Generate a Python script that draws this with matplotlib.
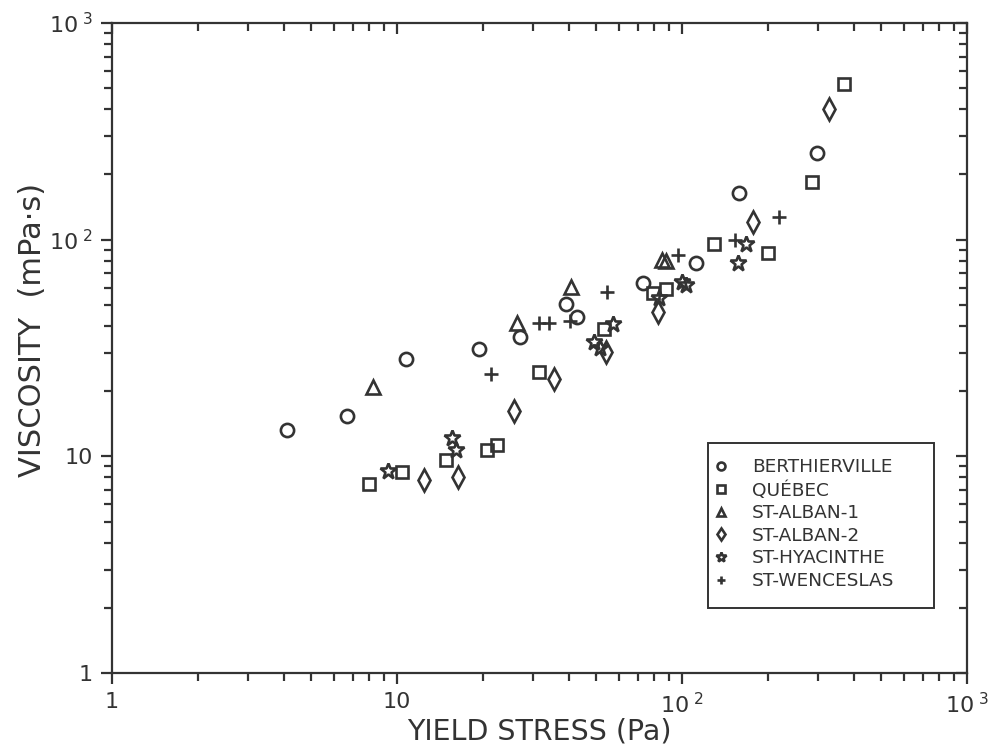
import matplotlib.pyplot as plt
from matplotlib.patches import Rectangle
from matplotlib.ticker import FixedLocator, LogLocator, NullFormatter

# yield stress (Pa) and viscosity (mPa.s) for each site
berthierville_x = [4.1, 6.66, 10.75, 19.4, 27.0, 39.1, 42.7, 72.8, 112, 158.5, 297]
berthierville_y = [13.2, 15.3, 28.2, 31.2, 35.4, 50.4, 44.1, 62.9, 77.8, 164.7, 250]

quebec_x = [7.97, 10.4, 14.9, 20.7, 22.4, 31.6, 53.3, 79.3, 87.9, 129.5, 201, 286, 370]
quebec_y = [7.45, 8.49, 9.6, 10.7, 11.3, 24.6, 38.5, 56.5, 59.0, 95.1, 86.4, 185, 522]

alban1_x = [8.26, 26.4, 40.7, 84.9, 87.5]
alban1_y = [20.8, 41.4, 60.6, 80.5, 79.5]

alban2_x = [12.4, 16.4, 25.7, 35.4, 54.1, 82.6, 178, 328]
alban2_y = [7.77, 8.05, 16.1, 22.7, 30.4, 46.5, 121, 399]

hyacinthe_x = [9.32, 15.6, 16.1, 49.2, 51.6, 57.4, 83.2, 100, 103, 157.6, 167]
hyacinthe_y = [8.59, 12.1, 10.7, 33.8, 31.5, 40.6, 53.6, 63.5, 61.5, 78.2, 95.1]

wenceslas_x = [21.3, 31.5, 34.0, 40.5, 54.4, 97.1, 153.5, 219]
wenceslas_y = [24.0, 41.4, 41.4, 42.2, 57.5, 84.9, 100, 127.6]

labels = ['BERTHIERVILLE', 'QUÉBEC', 'ST-ALBAN-1', 'ST-ALBAN-2',
          'ST-HYACINTHE', 'ST-WENCESLAS']

ink = '#333333'

fig = plt.figure(figsize=(9.95, 7.51), dpi=100)
ax = fig.add_axes([0.1126, 0.1039, 0.8593, 0.8655])

series = [
    (berthierville_x, berthierville_y, 'o', 9.5),
    (quebec_x, quebec_y, 's', 8.5),
    (alban1_x, alban1_y, '^', 9.5),
    (alban2_x, alban2_y, 'd', 11),
    (hyacinthe_x, hyacinthe_y, '*', 12),
    (wenceslas_x, wenceslas_y, '+', 10.5),
]
for (xs, ys, m, ms), lab in zip(series, labels):
    ax.plot(xs, ys, linestyle='none', marker=m, markersize=ms,
            markerfacecolor='none', markeredgecolor=ink,
            markeredgewidth=1.9, label=lab)

ax.set_xscale('log')
ax.set_yscale('log')
ax.set_xlim(1, 1000)
ax.set_ylim(1, 1000)

for sp in ax.spines.values():
    sp.set_color(ink)
    sp.set_linewidth(1.6)

for axis in (ax.xaxis, ax.yaxis):
    axis.set_major_locator(FixedLocator([1, 10, 100, 1000]))
    axis.set_minor_locator(LogLocator(base=10, subs=range(2, 10)))
    axis.set_minor_formatter(NullFormatter())

tick_text = ['1', '10', r'$\mathregular{10^{\ 2}}$', r'$\mathregular{10^{\ 3}}$']
ax.set_xticklabels(tick_text)
ax.set_yticklabels(tick_text)

ax.tick_params(which='both', color=ink, width=1.6, labelcolor=ink,
               labelsize=16, top=True, right=True, direction='out', pad=6)
ax.tick_params(which='major', length=8)
ax.tick_params(which='minor', length=6)
# top and right ticks point inwards
for t in ax.xaxis.get_major_ticks() + ax.xaxis.get_minor_ticks():
    t.tick2line.set_marker(3)
for t in ax.yaxis.get_major_ticks() + ax.yaxis.get_minor_ticks():
    t.tick2line.set_marker(0)

ax.set_xlabel('YIELD STRESS (Pa)', fontsize=20.5, color=ink, labelpad=0)
ax.set_ylabel('VISCOSITY  (mPa·s)', fontsize=22, color=ink)
ax.yaxis.set_label_coords(-0.076, 0.528)

# legend box drawn separately so it keeps the wide right margin
ax.add_patch(Rectangle((0.697, 0.1), 0.264, 0.254, transform=ax.transAxes,
                       facecolor='white', edgecolor=ink, linewidth=1.4,
                       zorder=4))
leg = ax.legend(loc='upper left', bbox_to_anchor=(0.703, 0.33),
                borderaxespad=0, borderpad=0, frameon=False, fontsize=13.3,
                markerscale=0.6, handlelength=0.9, handletextpad=1.2,
                labelspacing=0.25)
leg.set_zorder(5)
for t in leg.get_texts():
    t.set_color(ink)

fig.savefig('out.png', dpi=100, facecolor='white')
